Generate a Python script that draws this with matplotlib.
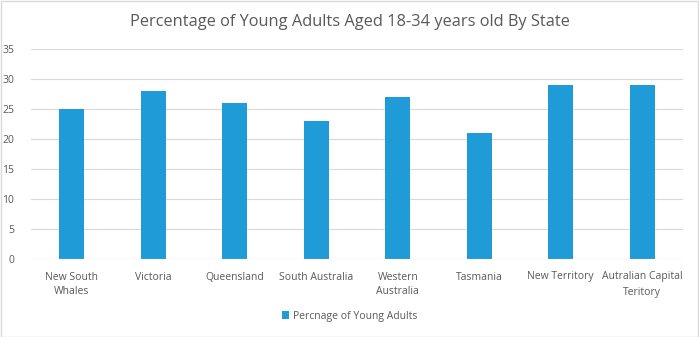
import matplotlib
matplotlib.use('Agg')
import matplotlib.pyplot as plt
from matplotlib.patches import Rectangle

states = ['New South\nWhales', 'Victoria', 'Queensland', 'South Australia',
          'Western\nAustralia', 'Tasmania', 'New Territory', 'Autralian Capital\nTeritory']
values = [25, 28, 26, 23, 27, 21, 29, 29]
yticks = [0, 5, 10, 15, 20, 25, 30, 35]

plt.rcParams['font.family'] = ['Open Sans', 'DejaVu Sans']
grey = '#595959'

fig = plt.figure(figsize=(6.99, 3.37), dpi=100)
ax = fig.add_axes([31 / 699, 1 - 259 / 337, 652 / 699, 210 / 337])

x = range(len(states))
ax.bar(x, values, width=0.31, color='#1F9BD7', label='Percnage of Young Adults', zorder=3)

ax.set_xlim(-0.5, len(states) - 0.5)
ax.set_ylim(0, 35)
ax.set_yticks(yticks)
ax.set_xticks(list(x))
ax.set_xticklabels(states, fontsize=7.5, color=grey, linespacing=1.5)
ax.tick_params(axis='y', labelsize=7.5, labelcolor=grey, length=0, pad=12)
ax.tick_params(axis='x', length=0, pad=9)
ax.grid(axis='y', color='#D9D9D9', linewidth=0.8, zorder=0)
for s in ax.spines.values():
    s.set_visible(False)
ax.axhline(0, color='#D9D9D9', linewidth=0.8, zorder=4)

fig.suptitle('Percentage of Young Adults Aged 18-34 years old By State',
             y=1 - 22 / 337, va='center', fontsize=11.8, color=grey)

fig.legend(loc='center', bbox_to_anchor=(0.5, 1 - 316 / 337), frameon=False,
           fontsize=7.5, labelcolor=grey, handlelength=0.7, handleheight=0.7,
           handletextpad=0.4)

fig.patches.append(Rectangle((0.5 / 699, 0.5 / 337), 697.5 / 699, 335.5 / 337,
                             transform=fig.transFigure, fill=False,
                             edgecolor='#D9D9D9', linewidth=1))

fig.savefig('out.png', dpi=100)
